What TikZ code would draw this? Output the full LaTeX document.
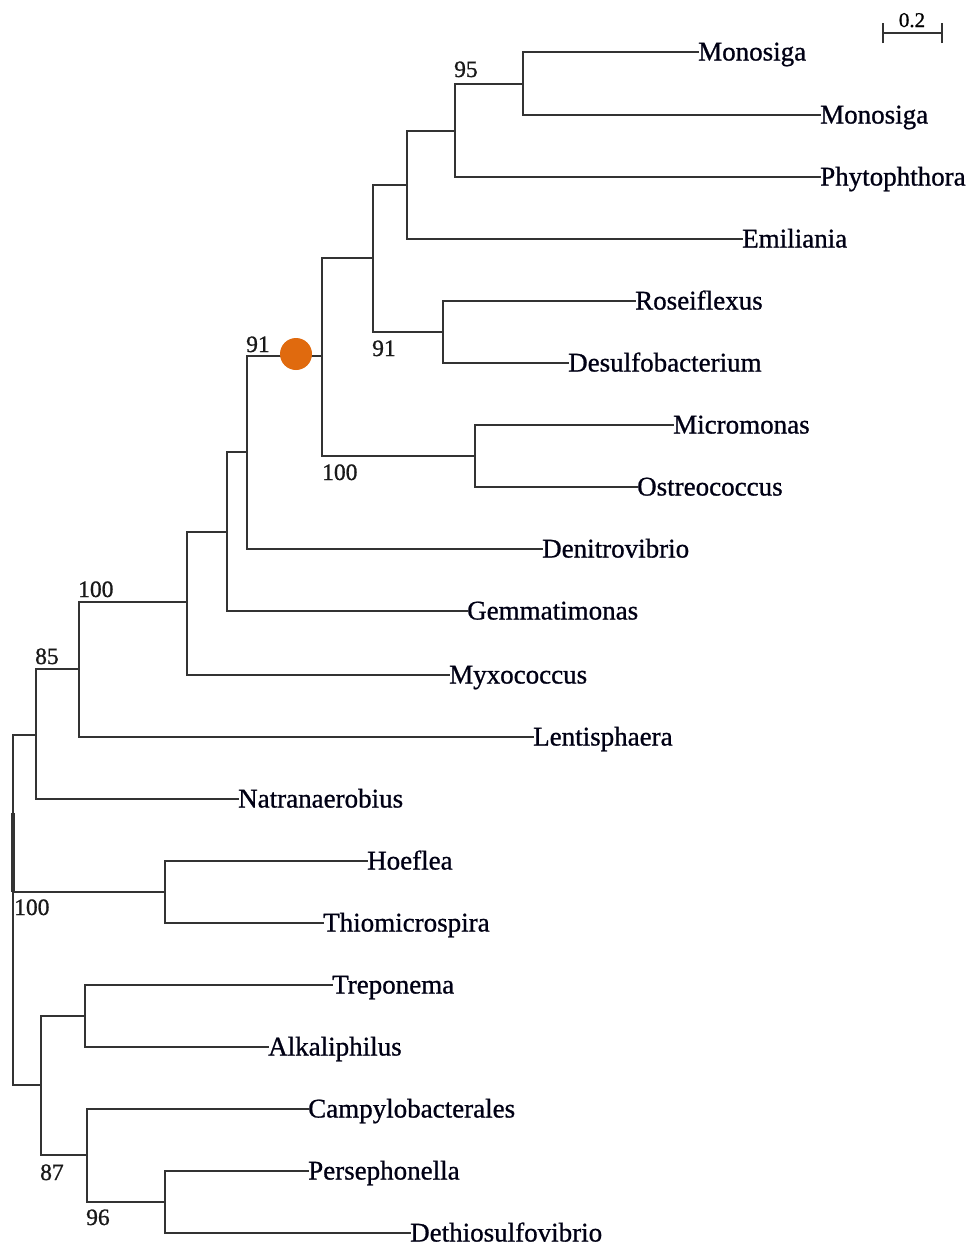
\documentclass[tikz,border=0pt]{standalone}
\usepackage{fontspec}
\setmainfont{Liberation Serif}
\newfontfamily\leaffam[FakeBold=0.9]{Liberation Serif}
\begin{document}
\begin{tikzpicture}[x=1pt,y=-1pt,
  branch/.style={draw=black!80, line width=2.1pt, line cap=rect},
  leaf/.style={anchor=west, inner sep=0pt, text height=17pt, text depth=0pt, text=black!92!blue, font=\leaffam\fontsize{27}{31}\selectfont},
  boot/.style={anchor=base west, inner sep=0pt, text=black!90, font=\leaffam\fontsize{23.5}{26}\selectfont},
  dotmark/.style={circle, fill={rgb,255:red,224;green,106;blue,14}, minimum size=32pt, inner sep=0pt}]
\fill[white] (0,0) rectangle (978,1248);
\useasboundingbox (0,0) rectangle (978,1248);

% leaves
\node[leaf] (l1) at (698,52) {Monosiga};
\node[leaf] (l2) at (820,115) {Monosiga};
\node[leaf] (l3) at (820,177) {Phytophthora};
\node[leaf] (l4) at (742,239) {Emiliania};
\node[leaf] (l5) at (635,301) {Roseiflexus};
\node[leaf] (l6) at (568,363) {Desulfobacterium};
\node[leaf] (l7) at (673,425) {Micromonas};
\node[leaf] (l8) at (637,487) {Ostreococcus};
\node[leaf] (l9) at (542,549) {Denitrovibrio};
\node[leaf] (l10) at (467,611) {Gemmatimonas};
\node[leaf] (l11) at (449,675) {Myxococcus};
\node[leaf] (l12) at (533,737) {Lentisphaera};
\node[leaf] (l13) at (238,799) {Natranaerobius};
\node[leaf] (l14) at (367,861) {Hoeflea};
\node[leaf] (l15) at (323,923) {Thiomicrospira};
\node[leaf] (l16) at (332,985) {Treponema};
\node[leaf] (l17) at (268,1047) {Alkaliphilus};
\node[leaf] (l18) at (308,1109) {Campylobacterales};
\node[leaf] (l19) at (308,1171) {Persephonella};
\node[leaf] (l20) at (410,1233) {Dethiosulfovibrio};

% internal nodes
\coordinate (nA) at (523,84);
\coordinate (nB) at (455,131);
\coordinate (nC) at (407,185);
\coordinate (nD) at (443,332);
\coordinate (nE) at (373,258);
\coordinate (nF) at (475,456);
\coordinate (nG) at (322,356);
\coordinate (nH) at (247,452);
\coordinate (nI) at (227,532);
\coordinate (nJ) at (187,602);
\coordinate (nK) at (79,669);
\coordinate (nL) at (36,735);
\coordinate (nM) at (165,892);
\coordinate (nN) at (85,1016);
\coordinate (nO) at (165,1202);
\coordinate (nP) at (87,1155);
\coordinate (nQ) at (41,1085);
\coordinate (root) at (13,892);
\coordinate (rtop) at (13,813);

% branches
\path[branch] (nA) |- (l1.west) (nA) |- (l2.west);
\path[branch] (nB) |- (nA) (nB) |- (l3.west);
\path[branch] (nC) |- (nB) (nC) |- (l4.west);
\path[branch] (nD) |- (l5.west) (nD) |- (l6.west);
\path[branch] (nE) |- (nC) (nE) |- (nD);
\path[branch] (nF) |- (l7.west) (nF) |- (l8.west);
\path[branch] (nG) |- (nE) (nG) |- (nF);
\path[branch] (nH) |- (nG) (nH) |- (l9.west);
\path[branch] (nI) |- (nH) (nI) |- (l10.west);
\path[branch] (nJ) |- (nI) (nJ) |- (l11.west);
\path[branch] (nK) |- (nJ) (nK) |- (l12.west);
\path[branch] (nL) |- (nK) (nL) |- (l13.west);
\path[branch] (nM) |- (l14.west) (nM) |- (l15.west);
\path[branch] (nN) |- (l16.west) (nN) |- (l17.west);
\path[branch] (nO) |- (l19.west) (nO) |- (l20.west);
\path[branch] (nP) |- (l18.west) (nP) |- (nO);
\path[branch] (nQ) |- (nN) (nQ) |- (nP);
\path[branch] (root) |- (nL) (root) |- (nM) (root) |- (nQ);
\path[branch, line width=3.4pt, line cap=butt] (rtop) -- (root);

% highlighted node
\node[dotmark] (dot) at (296,354) {};

% bootstrap values
\node[boot] (b1) at (454,77) {95};
\node[boot] (b2) at (246,352) {91};
\node[boot] (b3) at (372,356) {91};
\node[boot] (b4) at (322,480) {100};
\node[boot] (b5) at (78,597) {100};
\node[boot] (b6) at (35,664) {85};
\node[boot] (b7) at (14,915) {100};
\node[boot] (b8) at (40,1180) {87};
\node[boot] (b9) at (86,1225) {96};

% scale bar
\coordinate (s1) at (883,33);
\coordinate (s2) at (942,33);
\path[branch, line width=1.8pt, line cap=butt] (s1) -- (s2);
\path[branch, line width=1.8pt, line cap=butt] ([yshift=-10pt]s1) -- ([yshift=10pt]s1);
\path[branch, line width=1.8pt, line cap=butt] ([yshift=-10pt]s2) -- ([yshift=10pt]s2);
\node[anchor=base, inner sep=0pt, font=\leaffam\fontsize{21}{24}\selectfont] (sc) at (912,27) {0.2};
\end{tikzpicture}
\end{document}
